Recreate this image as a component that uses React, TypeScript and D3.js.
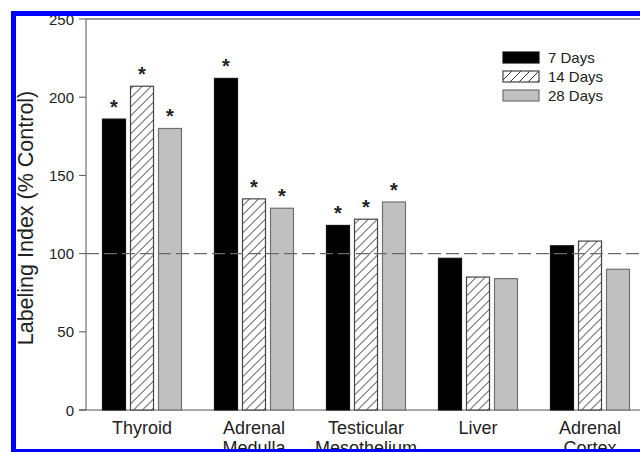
import React from "react";
import * as d3 from "d3";

const categories = ["Thyroid", "Adrenal\nMedulla", "Testicular\nMesothelium", "Liver", "Adrenal\nCortex"];
const seriesNames = ["7 Days", "14 Days", "28 Days"];
const days7 = [186, 212, 118, 97, 105];
const days14 = [207, 135, 122, 85, 108];
const days28 = [180, 129, 133, 84, 90];
const sig7 = [true, true, true, false, false];
const sig14 = [true, true, true, false, false];
const sig28 = [true, true, true, false, false];
const yTicks = [0, 50, 100, 150, 200, 250];
const controlLevel = 100;

const W = 640;
const H = 452;
const FONT = "'Liberation Sans', Arial, Helvetica, sans-serif";

export default function App() {
  const left = 86;
  const top = 19;
  const bottom = 410;

  const y = d3.scaleLinear().domain([0, 250]).range([bottom, top]);
  const x0 = d3
    .scaleBand<string>()
    .domain(categories)
    .range([left, left + 560])
    .paddingInner(33 / 112)
    .paddingOuter(33 / 224);
  const x1 = d3
    .scaleBand<string>()
    .domain(seriesNames)
    .range([0, x0.bandwidth()])
    .paddingInner(5 / 28)
    .paddingOuter(0);

  const seriesValues = [days7, days14, days28];
  const seriesSig = [sig7, sig14, sig28];
  const fills = ["#000000", "url(#hatch)", "#c0c0c0"];
  const strokes = ["#111111", "#444444", "#707070"];

  const legendX = 503;
  const legendY = 52;

  return (
    <svg
      width={W}
      height={H}
      style={{ position: "absolute", left: 0, top: 0, display: "block", background: "#fff" }}
      fontFamily={FONT}
    >
      <defs>
        <pattern id="hatch" patternUnits="userSpaceOnUse" width={9} height={9}>
          <rect width={9} height={9} fill="#ffffff" />
          <path d="M0,9 L9,0 M-2,2 L2,-2 M7,11 L11,7" stroke="#333" strokeWidth={1} />
        </pattern>
      </defs>
      <rect x={0} y={0} width={W} height={H} fill="#ffffff" />

      {/* frame top line */}
      <line x1={left} x2={W} y1={top} y2={top} stroke="#777" strokeWidth={1.5} />
      {/* x axis line */}
      <line x1={left - 7} x2={W} y1={bottom} y2={bottom} stroke="#555" strokeWidth={1} />
      {/* y axis */}
      <line x1={left} x2={left} y1={top} y2={bottom} stroke="#555" strokeWidth={1} />
      {yTicks.map((t) => (
        <g key={t}>
          <line x1={left - 7} x2={left} y1={y(t)} y2={y(t)} stroke="#555" strokeWidth={1} />
          <text
            x={left - 12}
            y={y(t)}
            textAnchor="end"
            dominantBaseline="central"
            fontSize={15}
            fill="#222"
          >
            {t}
          </text>
        </g>
      ))}

      {/* bars */}
      {categories.map((c, i) => (
        <g key={c} transform={`translate(${x0(c)},0)`}>
          {seriesNames.map((s, j) => {
            const v = seriesValues[j][i];
            const bx = x1(s)!;
            return (
              <g key={s}>
                <rect
                  x={bx}
                  y={y(v)}
                  width={x1.bandwidth()}
                  height={bottom - y(v)}
                  fill={fills[j]}
                  stroke={strokes[j]}
                  strokeWidth={1.2}
                />
                {seriesSig[j][i] && (
                  <text
                    x={bx + x1.bandwidth() / 2}
                    y={y(v) - 5}
                    textAnchor="middle"
                    fontSize={20}
                    fontWeight="bold"
                    fill="#222"
                  >
                    *
                  </text>
                )}
              </g>
            );
          })}
        </g>
      ))}

      {/* control line */}
      <line
        x1={left}
        x2={W}
        y1={y(controlLevel)}
        y2={y(controlLevel)}
        stroke="#6a6a6a"
        strokeWidth={1.3}
        strokeDasharray="13,5"
      />

      {/* category labels */}
      {categories.map((c) => {
        const lines = c.split("\n");
        const cx = x0(c)! + x0.bandwidth() / 2;
        return (
          <text key={c} x={cx} y={434} textAnchor="middle" fontSize={18} fill="#222">
            {lines.map((l, k) => (
              <tspan key={k} x={cx} dy={k === 0 ? 0 : 20}>
                {l}
              </tspan>
            ))}
          </text>
        );
      })}

      {/* y axis title */}
      <text
        transform={`translate(33,218) rotate(-90)`}
        textAnchor="middle"
        fontSize={21.5}
        fill="#222"
      >
        Labeling Index (% Control)
      </text>

      {/* legend */}
      {seriesNames.map((s, j) => (
        <g key={s} transform={`translate(${legendX},${legendY + j * 19})`}>
          <rect x={0} y={0} width={36} height={11} fill={fills[j]} stroke={strokes[j]} strokeWidth={1.2} />
          <text x={45} y={11} fontSize={15} fill="#222">
            {s}
          </text>
        </g>
      ))}

      {/* blue border */}
      <rect x={11} y={11} width={5} height={H - 11} fill="#0000ff" />
      <rect x={11} y={11} width={W - 11} height={5} fill="#0000ff" />
      <rect x={11} y={449} width={W - 11} height={3} fill="#0000ff" />
      <rect x={0} y={0} width={11} height={H} fill="#ffffff" />
      <rect x={0} y={0} width={W} height={11} fill="#ffffff" />
    </svg>
  );
}
